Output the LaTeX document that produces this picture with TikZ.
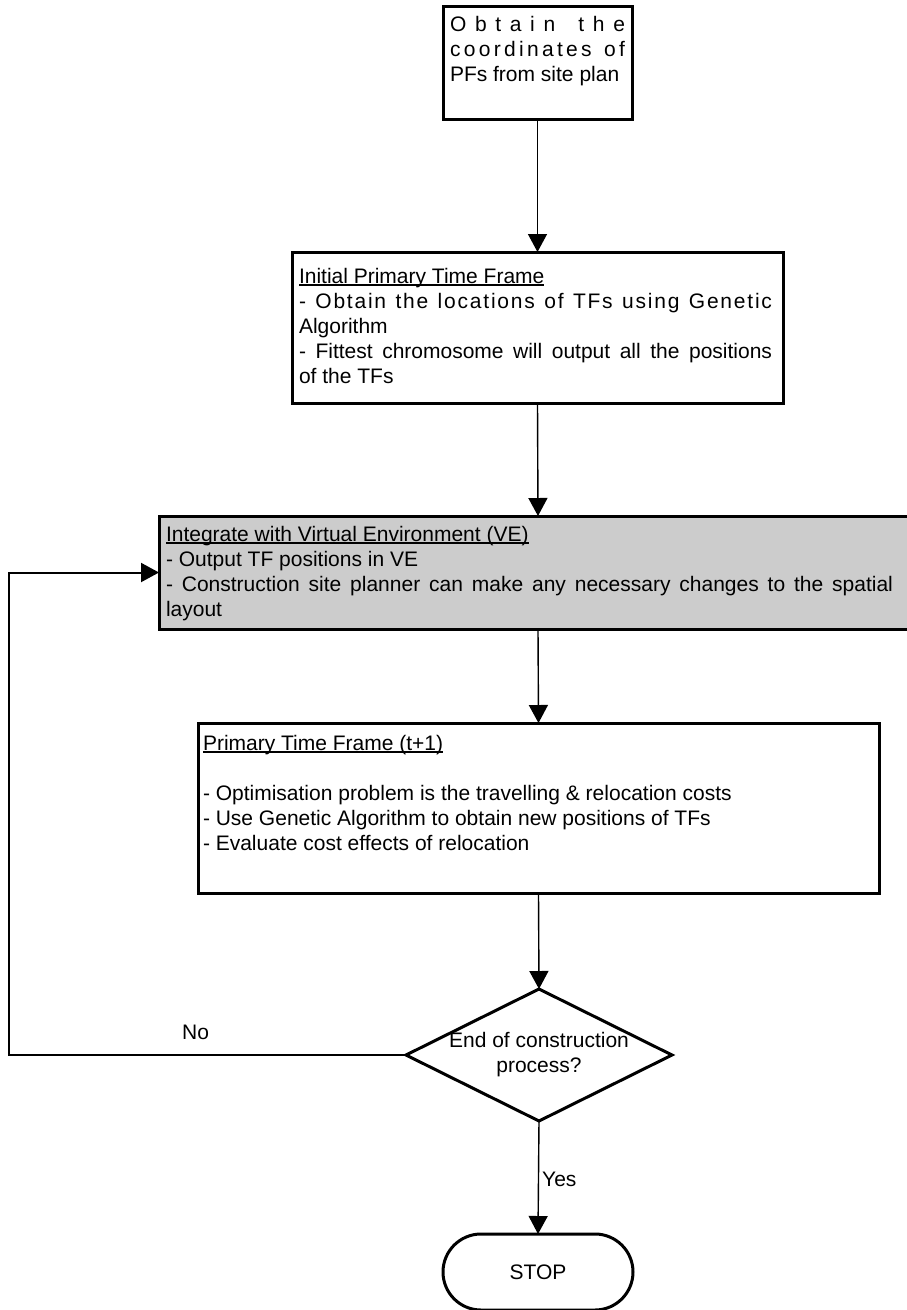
\documentclass[tikz,border=0pt]{standalone}
\usepackage{fontspec}
\setmainfont{Liberation Sans}
\usetikzlibrary{arrows.meta,shapes.geometric}
\definecolor{boxgray}{HTML}{CCCCCC}
\newcommand\ulinetxt[1]{\setbox0\hbox{#1}\rlap{\rule[-2.6pt]{\wd0}{1.2pt}}\box0}
\ExplSyntaxOn
\NewDocumentCommand \spreadtext { m m }
  {
    \makebox[#1][s]
      {
        \bool_set_true:N \l_tmpa_bool
        \str_map_inline:nn { #2 }
          {
            \bool_if:NTF \l_tmpa_bool
              { \bool_set_false:N \l_tmpa_bool }
              { \hfil }
            \str_if_eq:nnTF { ##1 } { ~ } { \c_space_tl } { ##1 }
          }
      }
  }
\ExplSyntaxOff
\tikzset{
  procbox/.style={draw=black, line width=3pt, inner sep=0pt, outer sep=0pt, anchor=north west},
  conn/.style={line width=1.4pt, -{Triangle[width=19pt,length=18pt]}},
  loopconn/.style={line width=2pt, -{Triangle[width=19pt,length=18pt]}},
  txt/.style={font=\fontsize{21pt}{25pt}\selectfont},
  decision/.style={diamond, draw=black, line width=3pt, minimum width=266pt, minimum height=132pt, inner sep=0pt, outer sep=0pt},
  terminal/.style={draw=black, line width=3pt, rounded corners=38pt, minimum width=190pt, minimum height=76pt, inner sep=0pt, outer sep=0pt},
}
\begin{document}
\begin{tikzpicture}[x=1pt,y=-1pt,txt]
\useasboundingbox (0,0) rectangle (906,1310);
% Box 1
\node[procbox] (b1) at (443,6) {\parbox[c][113pt][t]{189pt}{\fontsize{21pt}{25pt}\selectfont\parindent0pt\leftskip7pt\rightskip0pt plus 1fil
\leavevmode\rule{0pt}{25pt}\spreadtext{175pt}{Obtain the}\par
\spreadtext{175pt}{coordinates of}\par
PFs from site plan}};
% Box 2
\node[procbox] (b2) at (292,252) {\parbox[c][151pt][t]{491pt}{\fontsize{21pt}{25pt}\selectfont\parindent0pt\leftskip7pt\rightskip11pt
\leavevmode\rule{0pt}{31pt}\ulinetxt{Initial Primary Time Frame}\par
\spreadtext{473pt}{- Obtain the locations of TFs using Genetic}\par
Algorithm\par
- Fittest chromosome will output all the positions\linebreak of the TFs}};
% Box 3
\node[procbox, fill=boxgray] (b3) at (159,516) {\parbox[c][113pt][t]{758pt}{\fontsize{21pt}{25pt}\selectfont\parindent0pt\leftskip7pt\rightskip24pt
\leavevmode\rule{0pt}{25pt}\ulinetxt{Integrate with Virtual Environment (VE)}\par
- Output TF positions in VE\par
- Construction site planner can make any necessary changes to the spatial\linebreak layout}};
% Box 4
\node[procbox] (b4) at (198,723) {\parbox[c][170pt][t]{681pt}{\fontsize{21pt}{25pt}\selectfont\parindent0pt\leftskip5pt\rightskip0pt plus 1fil
\leavevmode\rule{0pt}{27pt}\ulinetxt{Primary Time Frame (t+1)}\par
\mbox{}\par
- Optimisation problem is the travelling \& relocation costs\par
- Use Genetic Algorithm to obtain new positions of TFs\par
- Evaluate cost effects of relocation}};
% Decision
\node[decision] (d) at (539,1055) {};
\node[align=center, inner sep=0pt] (dtext) at (d.center) {End of construction\\process?};
% Terminal
\node[terminal] (stop) at (538,1272) {STOP};
% Connectors
\draw[conn] (b1.south) -- (b2.north);
\draw[conn] (b2.south) -- (b3.north);
\draw[conn] (b3.south) -- (b4.north);
\draw[conn] (b4.south) -- (d.north);
\draw[conn] (d.south) -- node[pos=0.52, anchor=west, inner sep=3pt] (yes) {Yes} (stop.north);
\coordinate (lp) at (9,1055);
\draw[loopconn] (d.west) -- node[pos=0.53, yshift=23pt, inner sep=0pt] (no) {No} (lp) |- (b3.west);
\end{tikzpicture}
\end{document}
